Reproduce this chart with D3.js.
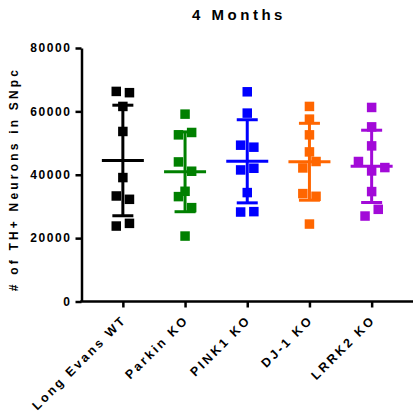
<!DOCTYPE html>
<html>
<head>
<meta charset="utf-8">
<script src="https://cdn.jsdelivr.net/npm/d3@7"></script>
<style>
  html, body { margin: 0; padding: 0; background: #fff; }
  svg { display: block; }
  text { font-family: "Liberation Sans", Arial, sans-serif; font-weight: bold; fill: #000; }
</style>
</head>
<body>
<svg id="chart" width="414" height="414"></svg>
<script>
// TH+ neuron counts in the SNpc at 4 months, one value per animal
const categories = ["Long Evans WT", "Parkin KO", "PINK1 KO", "DJ-1 KO", "LRRK2 KO"];
const longEvansWT = [66300, 65900, 61560, 53660, 39110, 33300, 32250, 23810, 24660];
const parkinKO    = [59130, 52590, 53340, 44050, 41110, 34780, 33100, 29620, 20650];
const pink1KO     = [66180, 59450, 49330, 48700, 41520, 42050, 34370, 28240, 28360];
const dj1KO       = [61560, 57550, 52590, 47210, 42150, 44180, 34050, 33200, 24440];
const lrrk2KO     = [61240, 55110, 49110, 44180, 41200, 42270, 34690, 26970, 29090];
const yTicks = [0, 20000, 40000, 60000, 80000];
const groupColors = ["#000000", "#008000", "#0000ff", "#ff6600", "#a20ad8"];

const series = [longEvansWT, parkinKO, pink1KO, dj1KO, lrrk2KO];

const svg = d3.select("#chart");
const plotLeft = 81.5, plotRight = 413, plotTop = 48, plotBottom = 301.5;

const x = d3.scalePoint().domain(categories).range([plotLeft, plotRight]).padding(0.665);
const y = d3.scaleLinear().domain([0, 80000]).range([plotBottom, plotTop]);

const markSize = 9.5;     // square side
const halfStep = 6.6;     // lateral spacing for overlapping points
const clusterGap = 11.5;  // vertical px distance under which points are spread sideways

// Spread points sideways where their squares would overlap vertically
function scatterOffsets(values) {
  const order = values.map((v, i) => i).sort((a, b) => values[b] - values[a] || a - b);
  const clusters = [];
  let current = [];
  order.forEach((idx, k) => {
    if (k > 0 && Math.abs(y(values[idx]) - y(values[order[k - 1]])) >= clusterGap) {
      clusters.push(current); current = [];
    }
    current.push(idx);
  });
  if (current.length) clusters.push(current);

  const offsets = new Array(values.length).fill(0);
  clusters.forEach(members => {
    const n = members.length;
    const span = Math.abs(y(values[members[0]]) - y(values[members[n - 1]]));
    let slots;
    if (n === 1) slots = [0];
    else if (n === 2) slots = [-0.5, 0.5];
    else if (n === 3 && span >= 10) slots = [0, -0.5, 0.5];
    else slots = d3.range(n).map(i => i - (n - 1) / 2);
    const byIndex = members.slice().sort((a, b) => a - b);
    byIndex.forEach((idx, i) => { offsets[idx] = slots[i] * 2 * halfStep; });
  });
  return offsets;
}

// Title
svg.append("text")
  .attr("x", 239).attr("y", 20)
  .attr("text-anchor", "middle")
  .style("font-size", "15px")
  .style("letter-spacing", "3.5px")
  .text("4 Months");

// Y axis
const yAxis = svg.append("g")
  .attr("transform", `translate(${plotLeft},0)`)
  .call(d3.axisLeft(y).tickValues(yTicks).tickFormat(d3.format("d")).tickSize(6).tickSizeOuter(0).tickPadding(4));
yAxis.select(".domain").attr("stroke-width", 2.5).attr("stroke", "#000");
yAxis.selectAll(".tick line").attr("stroke-width", 2.5).attr("stroke", "#000");
yAxis.selectAll(".tick text")
  .style("font-size", "12px")
  .style("letter-spacing", "1.6px")
  .style("font-family", "'Liberation Sans', Arial, sans-serif")
  .style("font-weight", "bold");

// X axis
const xAxis = svg.append("g")
  .attr("transform", `translate(0,${plotBottom})`)
  .call(d3.axisBottom(x).tickSize(6).tickSizeOuter(0).tickPadding(4));
xAxis.select(".domain").attr("stroke-width", 2.5).attr("stroke", "#000")
  .attr("d", `M${plotLeft - 1.25},0H${plotRight}`);
xAxis.selectAll(".tick line").attr("stroke-width", 2.5).attr("stroke", "#000");
xAxis.selectAll(".tick text")
  .attr("text-anchor", "end")
  .attr("dy", null)
  .attr("y", 0)
  .attr("transform", "translate(4,19) rotate(-45)")
  .style("font-size", "12.5px")
  .style("letter-spacing", "2.6px")
  .style("font-family", "'Liberation Sans', Arial, sans-serif")
  .style("font-weight", "bold");

// Y axis title
svg.append("text")
  .attr("transform", "translate(18,179) rotate(-90)")
  .attr("text-anchor", "middle")
  .style("font-size", "12px")
  .style("letter-spacing", "3.2px")
  .text("# of TH+ Neurons in SNpc");

// Points with mean ± SD
series.forEach((values, gi) => {
  const cx = x(categories[gi]);
  const color = groupColors[gi];
  const offsets = scatterOffsets(values);
  const g = svg.append("g");

  g.selectAll("rect")
    .data(values)
    .join("rect")
    .attr("x", (d, i) => cx + offsets[i] - markSize / 2)
    .attr("y", d => y(d) - markSize / 2)
    .attr("width", markSize)
    .attr("height", markSize)
    .attr("fill", color);

  const mean = d3.mean(values);
  const sd = d3.deviation(values);
  const lw = 3;
  g.append("line")
    .attr("x1", cx).attr("x2", cx)
    .attr("y1", y(mean + sd)).attr("y2", y(mean - sd))
    .attr("stroke", color).attr("stroke-width", lw);
  [mean + sd, mean - sd].forEach(v => {
    g.append("line")
      .attr("x1", cx - 10.5).attr("x2", cx + 10.5)
      .attr("y1", y(v)).attr("y2", y(v))
      .attr("stroke", color).attr("stroke-width", lw);
  });
  g.append("line")
    .attr("x1", cx - 21).attr("x2", cx + 21)
    .attr("y1", y(mean)).attr("y2", y(mean))
    .attr("stroke", color).attr("stroke-width", lw);
});
</script>
</body>
</html>
